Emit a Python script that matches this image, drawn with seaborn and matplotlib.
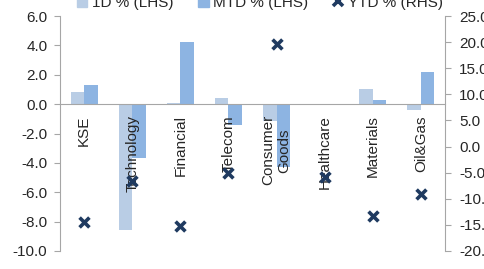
import numpy as np
import pandas as pd
import seaborn as sns
import matplotlib
matplotlib.use("Agg")
import matplotlib.pyplot as plt
from matplotlib.lines import Line2D
from matplotlib.patches import Patch

# data
sectors = ['KSE', 'Technology', 'Financial', 'Telecom', 'Consumer\nGoods',
           'Healthcare', 'Materials', 'Oil&Gas']
d1 = [0.85, -8.6, 0.05, 0.4, -1.15, 0.0, 1.05, -0.4]
mtd = [1.3, -3.65, 4.2, -1.45, -4.3, 0.0, 0.3, 2.2]
ytd = [-14.4, -6.6, -15.3, -5.0, 19.6, -5.9, -13.3, -9.1]

c_1d = '#B9CDE5'
c_mtd = '#8DB4E2'
c_ytd = '#1F3A60'
grey = '#A6A6A6'

sns.set_style('white')
plt.rcParams['font.family'] = ['Liberation Sans', 'DejaVu Sans']
plt.rcParams['font.size'] = 11

df = pd.DataFrame({'sector': sectors * 2,
                   'value': d1 + mtd,
                   'series': ['1D % (LHS)'] * len(sectors) + ['MTD % (LHS)'] * len(sectors)})

fig = plt.figure(figsize=(4.85, 2.69), dpi=100)
ax = fig.add_axes([60 / 485, 1 - 251 / 269, 385 / 485, 235 / 269])

sns.barplot(data=df, x='sector', y='value', hue='series', order=sectors,
            palette=[c_1d, c_mtd], width=0.56, gap=0, ax=ax, legend=False,
            saturation=1, edgecolor='none')
for p in ax.patches:
    p.set_zorder(1)
ax.xaxis.set_zorder(6)
ax.set_ylim(-10, 6)
ax.set_yticks(np.arange(-10, 6.1, 2))
ax.set_yticklabels([f'{v:.1f}' for v in np.arange(-10, 6.1, 2)])
ax.set_xlim(-0.5, len(sectors) - 0.5)
ax.set_xlabel('')
ax.set_ylabel('')

# x axis sits on the zero line
ax.spines['bottom'].set_position(('data', 0))
ax.spines['top'].set_visible(False)
ax.spines['right'].set_visible(False)
for s in ['bottom', 'left']:
    ax.spines[s].set_color(grey)
ax.tick_params(axis='x', which='major', length=0, pad=8, labelrotation=90)
for lab in ax.get_xticklabels():
    lab.set_va('top')
    lab.set_ha('center')
ax.set_xticks(np.arange(-0.5, len(sectors), 1), minor=True)
ax.tick_params(axis='x', which='minor', length=4, color=grey, direction='out')
ax.tick_params(axis='y', length=4, color=grey, direction='out', pad=5)

ax2 = ax.twinx()
sns.scatterplot(x=np.arange(len(sectors)), y=ytd, marker='x', s=50,
                color=c_ytd, linewidth=2.6, ax=ax2, legend=False, zorder=5)
ax2.set_ylim(-20, 25)
ax2.set_yticks(np.arange(-20, 25.1, 5))
ax2.set_yticklabels([f'{v:.1f}' for v in np.arange(-20, 25.1, 5)])
ax2.set_xlim(-0.5, len(sectors) - 0.5)
for s in ['top', 'bottom', 'left']:
    ax2.spines[s].set_visible(False)
ax2.spines['right'].set_color(grey)
ax2.tick_params(axis='y', length=4, color=grey, direction='out', pad=6)

handles = [Patch(color=c_1d), Patch(color=c_mtd),
           Line2D([], [], marker='x', color=c_ytd, linestyle='none',
                  markersize=7, markeredgewidth=2.6)]
fig.legend(handles, ['1D % (LHS)', 'MTD % (LHS)', 'YTD % (RHS)'],
           loc='center', bbox_to_anchor=(0.536, 0.99), ncol=3, frameon=False,
           handlelength=0.7, handleheight=0.7, columnspacing=1.6, handletextpad=0.3,
           fontsize=11)

fig.savefig('out.png', dpi=100)
